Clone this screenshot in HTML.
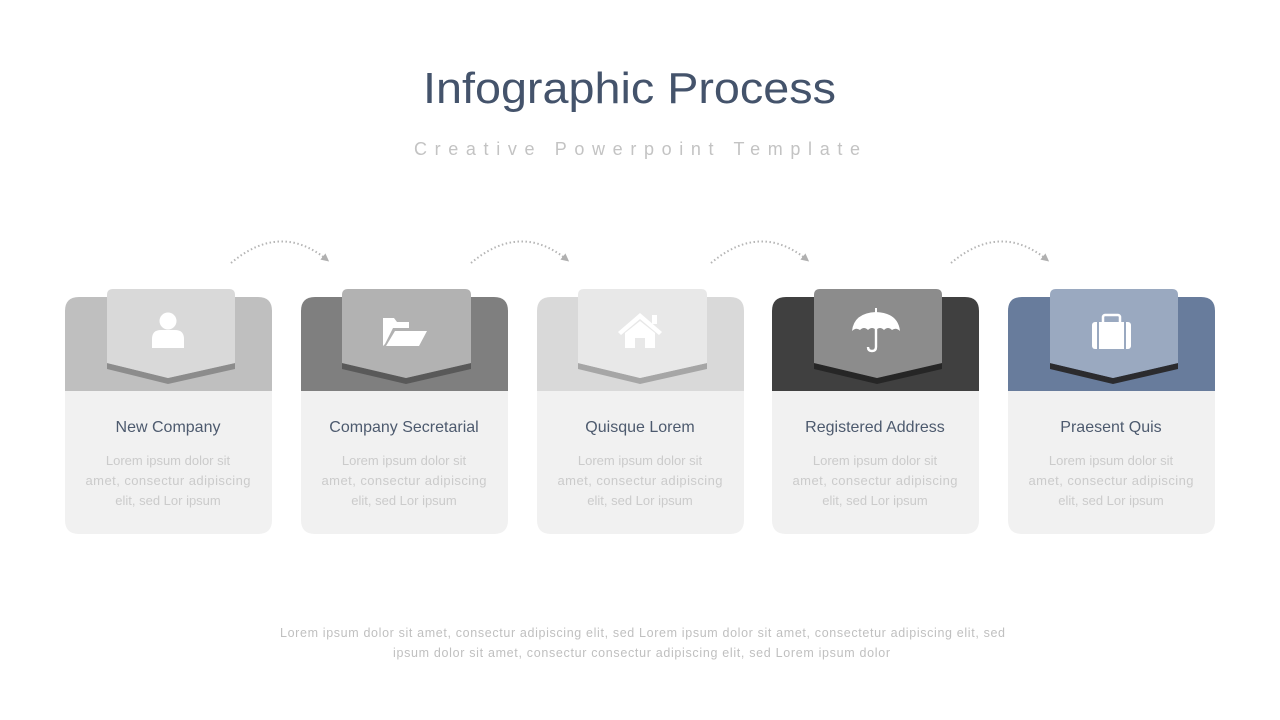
<!DOCTYPE html>
<html><head><meta charset="utf-8"><style>
html,body{margin:0;padding:0;background:#fff;}
svg{display:block;font-family:"Liberation Sans",sans-serif;}
</style></head><body>
<svg width="1280" height="720" viewBox="0 0 1280 720" xmlns="http://www.w3.org/2000/svg">
<defs>
<marker id="ah" markerWidth="8" markerHeight="8" refX="4" refY="4" orient="auto" markerUnits="userSpaceOnUse"><path d="M0,0 L8,4 L0,8 z" fill="#b0b0b0"/></marker>
<g id="arc"><path d="M231,263 Q280,222 326,259" fill="none" stroke="#b5b5b5" stroke-width="2" stroke-dasharray="1.5 2.5" marker-end="url(#ah)"/></g>
</defs>
<text x="423" y="103" textLength="413" lengthAdjust="spacingAndGlyphs" font-size="44" fill="#44536b">Infographic Process</text>
<text x="414" y="155" textLength="446" font-size="18" fill="#c3c3c3">Creative Powerpoint Template</text>

<use href="#arc"/><use href="#arc" x="240"/><use href="#arc" x="480"/><use href="#arc" x="720"/>

<g>
<g transform="translate(65,0)">
<path d="M0,311 Q0,297 14,297 H193 Q207,297 207,311 V391 H0 Z" fill="#bfbfbf"/>
<path d="M0,391 H207 V520 Q207,534 193,534 H14 Q0,534 0,520 Z" fill="#f1f1f1"/>
<path d="M42,363 L103,378 L170,363 V369 L103,384 L42,369 Z" fill="#8c8c8c"/>
<path d="M42,295 Q42,289 48,289 H164 Q170,289 170,295 V363 L103,378 L42,363 Z" fill="#d9d9d9"/>
<circle cx="103" cy="321" r="8.5" fill="#fff"/><path d="M87,348 V339 Q87,330 96,330 H110 Q119,330 119,339 V348 Z" fill="#fff"/>
<text x="103" y="432" text-anchor="middle" font-size="16" fill="#4d5a6e">New Company</text>
</g>
<g transform="translate(301,0)">
<path d="M0,311 Q0,297 14,297 H193 Q207,297 207,311 V391 H0 Z" fill="#7f7f7f"/>
<path d="M0,391 H207 V520 Q207,534 193,534 H14 Q0,534 0,520 Z" fill="#f1f1f1"/>
<path d="M41,363 L105,378 L170,363 V369 L105,384 L41,369 Z" fill="#595959"/>
<path d="M41,295 Q41,289 47,289 H164 Q170,289 170,295 V363 L105,378 L41,363 Z" fill="#b2b2b2"/>
<path d="M82,346 V318 H93 L96,322 H108 V328 H92 L84,344 Z" fill="#fff"/><path d="M85,346 L94,331 H126 L118,346 Z" fill="#fff"/>
<text x="103" y="432" text-anchor="middle" font-size="16" fill="#4d5a6e">Company Secretarial</text>
</g>
<g transform="translate(537,0)">
<path d="M0,311 Q0,297 14,297 H193 Q207,297 207,311 V391 H0 Z" fill="#d9d9d9"/>
<path d="M0,391 H207 V520 Q207,534 193,534 H14 Q0,534 0,520 Z" fill="#f1f1f1"/>
<path d="M41,363 L103,378 L170,363 V369 L103,384 L41,369 Z" fill="#a6a6a6"/>
<path d="M41,295 Q41,289 47,289 H164 Q170,289 170,295 V363 L103,378 L41,363 Z" fill="#e8e8e8"/>
<path d="M81,332 L103,313 L125,332 L122,335 L103,319 L84,335 Z" fill="#fff"/><path d="M88,333 L103,321 L118,333 V348 H108 V338 H98 V348 H88 Z" fill="#fff"/><rect x="115" y="315" width="5" height="9" fill="#fff"/>
<text x="103" y="432" text-anchor="middle" font-size="16" fill="#4d5a6e">Quisque Lorem</text>
</g>
<g transform="translate(772,0)">
<path d="M0,311 Q0,297 14,297 H193 Q207,297 207,311 V391 H0 Z" fill="#404040"/>
<path d="M0,391 H207 V520 Q207,534 193,534 H14 Q0,534 0,520 Z" fill="#f1f1f1"/>
<path d="M42,363 L105,378 L170,363 V369 L105,384 L42,369 Z" fill="#262626"/>
<path d="M42,295 Q42,289 48,289 H164 Q170,289 170,295 V363 L105,378 L42,363 Z" fill="#8c8c8c"/>
<path d="M80,331 Q82,313 104,312 Q126,313 128,331 Q124,327 120,330 Q116,326 112,330 Q108,326 104,330 Q100,326 96,330 Q92,326 88,330 Q84,327 80,331 Z" fill="#fff"/>
<rect x="103" y="308" width="2" height="5" fill="#fff"/>
<path d="M104,329 V347 Q104,351 100,351 Q96,351 96,347" fill="none" stroke="#fff" stroke-width="2.4"/>
<text x="103" y="432" text-anchor="middle" font-size="16" fill="#4d5a6e">Registered Address</text>
</g>
<g transform="translate(1008,0)">
<path d="M0,311 Q0,297 14,297 H193 Q207,297 207,311 V391 H0 Z" fill="#687c9c"/>
<path d="M0,391 H207 V520 Q207,534 193,534 H14 Q0,534 0,520 Z" fill="#f1f1f1"/>
<path d="M42,363 L105,378 L170,363 V369 L105,384 L42,369 Z" fill="#2b2b2e"/>
<path d="M42,295 Q42,289 48,289 H164 Q170,289 170,295 V363 L105,378 L42,363 Z" fill="#9aa9c0"/>
<rect x="84" y="322" width="39" height="27" rx="3" fill="#fff"/>
<rect x="95" y="315" width="17" height="9" rx="2" fill="none" stroke="#fff" stroke-width="2.5"/>
<rect x="89" y="322" width="2" height="27" fill="#9aa9c0"/><rect x="116" y="322" width="2" height="27" fill="#9aa9c0"/>
<text x="103" y="432" text-anchor="middle" font-size="16" fill="#4d5a6e">Praesent Quis</text>
</g>
</g>
<g font-size="13" fill="#cbcbcb" text-anchor="middle">
<text x="168" y="465">Lorem ipsum dolor sit</text><text x="168" y="485" textLength="165">amet, consectur adipiscing</text><text x="168" y="505">elit, sed Lor ipsum</text>
<text x="404" y="465">Lorem ipsum dolor sit</text><text x="404" y="485" textLength="165">amet, consectur adipiscing</text><text x="404" y="505">elit, sed Lor ipsum</text>
<text x="640" y="465">Lorem ipsum dolor sit</text><text x="640" y="485" textLength="165">amet, consectur adipiscing</text><text x="640" y="505">elit, sed Lor ipsum</text>
<text x="875" y="465">Lorem ipsum dolor sit</text><text x="875" y="485" textLength="165">amet, consectur adipiscing</text><text x="875" y="505">elit, sed Lor ipsum</text>
<text x="1111" y="465">Lorem ipsum dolor sit</text><text x="1111" y="485" textLength="165">amet, consectur adipiscing</text><text x="1111" y="505">elit, sed Lor ipsum</text>
</g>
<g font-size="12.5" fill="#c0c0c0">
<text x="280" y="637" textLength="725">Lorem ipsum dolor sit amet, consectur adipiscing elit, sed Lorem ipsum dolor sit amet, consectetur adipiscing elit, sed</text>
<text x="393" y="657" textLength="497">ipsum dolor sit amet, consectur consectur adipiscing elit, sed Lorem ipsum dolor</text>
</g>
</svg>
</body></html>
